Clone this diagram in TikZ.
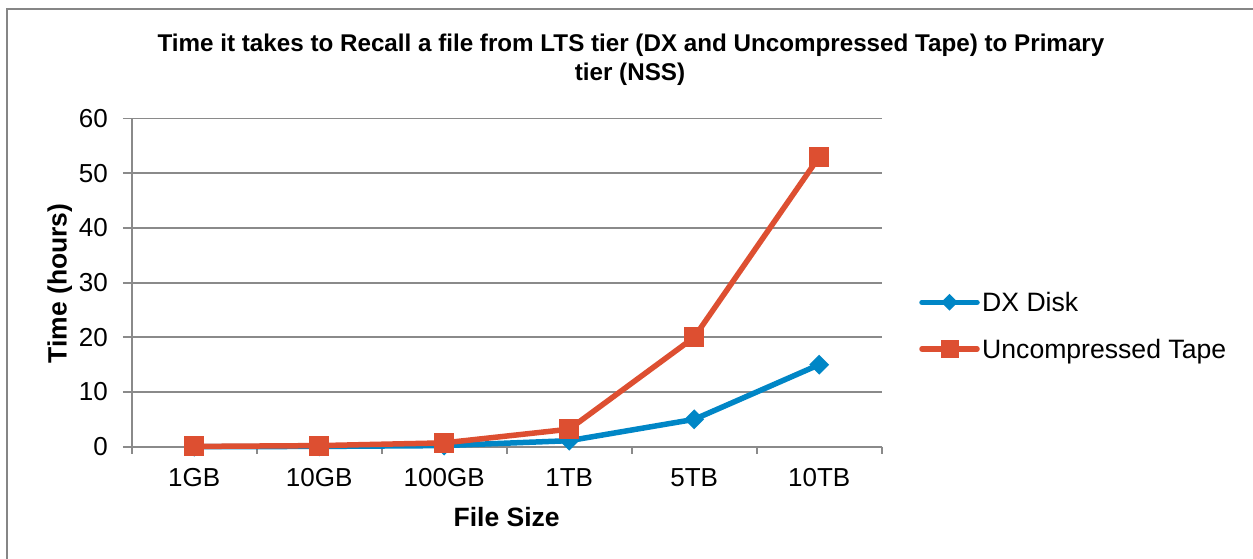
\documentclass[tikz,border=0pt]{standalone}
\usepackage{fontspec}
\setmainfont{Liberation Sans}
\usetikzlibrary{shapes.geometric}

\definecolor{framegray}{RGB}{134,134,134}
\definecolor{gridgray}{RGB}{138,138,138}
\definecolor{dxblue}{RGB}{0,134,198}
\definecolor{tapered}{RGB}{221,79,49}

\tikzset{
  frame/.style={draw=framegray, line width=2pt},
  gridline/.style={draw=gridgray, line width=1.9pt},
  axisline/.style={draw=gridgray, line width=1.9pt},
  ticklabel/.style={inner sep=0pt, font=\fontsize{26}{31}\selectfont},
  axistitle/.style={inner sep=0pt, font=\fontsize{26.5}{31}\selectfont\bfseries},
  charttitle/.style={inner sep=0pt, font=\fontsize{24.2}{28}\selectfont\bfseries},
  legendtext/.style={inner sep=0pt, font=\fontsize{26.6}{31}\selectfont},
  dxline/.style={draw=dxblue, line width=5.5pt, line join=round, line cap=round},
  tapeline/.style={draw=tapered, line width=5.5pt, line join=round, line cap=round},
  dxmark/.style={diamond, fill=dxblue, inner sep=0pt, minimum width=20pt, minimum height=20pt},
  tapemark/.style={rectangle, fill=tapered, inner sep=0pt, minimum size=20pt},
}

\begin{document}
\begin{tikzpicture}[x=1pt, y=-1pt]
\useasboundingbox (0,0) rectangle (1253,559);
\fill[white] (0,0) rectangle (1253,559);

% chart frame (left and top edges)
\draw[frame] (7,560) -- (7,9.3) -- (1254,9.3);

% title
\node[charttitle, anchor=base] (title1) at (631,51.7)
  {Time it takes to Recall a file from LTS tier (DX and Uncompressed Tape) to Primary};
\node[charttitle, anchor=base] (title2) at (630,80.5) {tier (NSS)};

% plot area: origin at the bottom-left corner, one unit per category / per hour
\begin{scope}[shift={(131.7,446.7)}, x=125pt, y=5.47pt]
  % horizontal gridlines with tick stubs and value labels
  \foreach \v in {0,10,...,60}{
    \draw[gridline] (-0.07,\v) -- (6,\v);
    \node[ticklabel, anchor=east] (yt\v) at (-0.19,\v) {\v};
  }
  % axes
  \draw[axisline] (0,0) -- (0,60);
  \draw[axisline] (0,0) -- (6,0);
  \foreach \c in {0,...,6}{
    \draw[axisline] (\c,0) -- (\c,-1.4);
  }
  % category labels
  \foreach \lab [count=\i] in {1GB,10GB,100GB,1TB,5TB,10TB}{
    \node[ticklabel, anchor=base] (xt\i) at (\i-0.5,-7.3) {\lab};
  }

  % data points
  \foreach \v [count=\i] in {0.0,0.05,0.2,1.1,5,15}{
    \coordinate (d\i) at (\i-0.5,\v);
  }
  \foreach \v [count=\i] in {0.05,0.2,0.7,3.2,20,53}{
    \coordinate (t\i) at (\i-0.5,\v);
  }
\end{scope}

% DX Disk series
\draw[dxline] (d1) -- (d2) -- (d3) -- (d4) -- (d5) -- (d6);
\foreach \i in {1,...,6}{ \node[dxmark] (dm\i) at (d\i) {}; }

% Uncompressed Tape series
\draw[tapeline] (t1) -- (t2) -- (t3) -- (t4) -- (t5) -- (t6);
\foreach \i in {1,...,6}{ \node[tapemark] (tm\i) at (t\i) {}; }

% axis titles
\node[axistitle, anchor=base] (xlab) at (506.7,526) {File Size};
\node[axistitle, anchor=base, rotate=90] (ylab) at (66.5,283.5) {Time (hours)};

% legend
\coordinate (ldA) at (922,302.3);
\coordinate (ldB) at (977,302.3);
\draw[dxline] (ldA) -- (ldB);
\node[dxmark, minimum width=17pt, minimum height=17pt] (ldm) at (949.5,302.3) {};
\node[legendtext, anchor=base west] (ldx) at (982,311.7) {DX Disk};

\coordinate (ltA) at (922,349);
\coordinate (ltB) at (977,349);
\draw[tapeline] (ltA) -- (ltB);
\node[tapemark, minimum size=18pt] (ltm) at (949.5,349) {};
\node[legendtext, anchor=base west] (ltape) at (982,358.3) {Uncompressed Tape};
\end{tikzpicture}
\end{document}
